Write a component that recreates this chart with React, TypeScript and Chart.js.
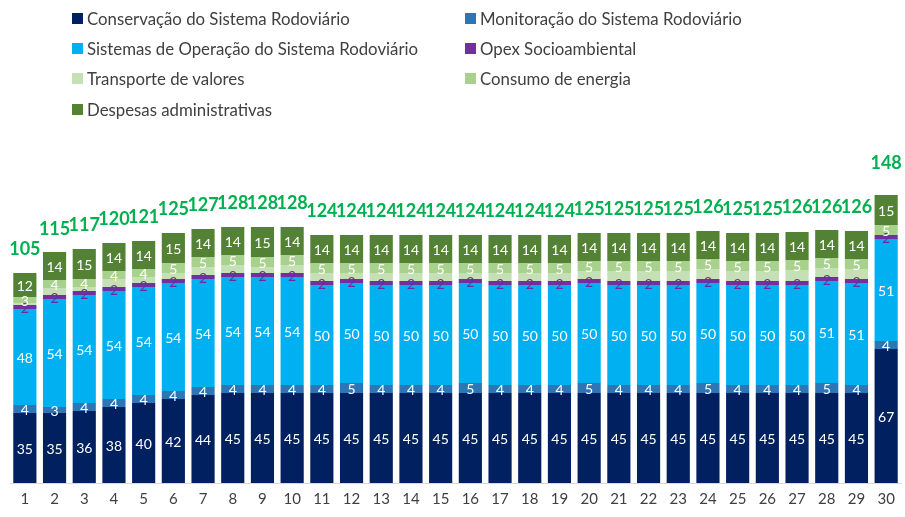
import React, { useEffect, useRef } from "react";
import { Chart, registerables } from "chart.js";

Chart.register(...registerables);

const categories = ["1","2","3","4","5","6","7","8","9","10","11","12","13","14","15","16","17","18","19","20","21","22","23","24","25","26","27","28","29","30"];

const conservacao = [35,35,36,38,40,42,44,45,45,45,45,45,45,45,45,45,45,45,45,45,45,45,45,45,45,45,45,45,45,67];
const monitoracao = [4,3,4,4,4,4,4,4,4,4,4,5,4,4,4,5,4,4,4,5,4,4,4,5,4,4,4,5,4,4];
const sistemasOperacao = [48,54,54,54,54,54,54,54,54,54,50,50,50,50,50,50,50,50,50,50,50,50,50,50,50,50,50,51,51,51];
const opexSocio = [2,2,2,2,2,2,2,2,2,2,2,2,2,2,2,2,2,2,2,2,2,2,2,2,2,2,2,2,2,2];
const transporteValores = [1,3.5,2,4,3,3,4,4,3,4,4,3,4,4,4,3,4,4,4,4,5,5,5,5,5,5,5.5,4.5,5,0];
const consumoEnergia = [3,4,4,4,4,5,5,5,5,5,5,5,5,5,5,5,5,5,5,5,5,5,5,5,5,5,5,5,5,5];
const despesasAdm = [12,14,15,14,14,15,14,14,15,14,14,14,14,14,14,14,14,14,14,14,14,14,14,14,14,14,14,14,14,15];
const totals = [105,115,117,120,121,125,127,128,128,128,124,124,124,124,124,124,124,124,124,125,125,125,125,126,125,125,126,126,126,148];

const seriesNames = [
  "Conservação do Sistema Rodoviário",
  "Monitoração do Sistema Rodoviário",
  "Sistemas de Operação do Sistema Rodoviário",
  "Opex Socioambiental",
  "Transporte de valores",
  "Consumo de energia",
  "Despesas administrativas",
];
const seriesColors = ["#002060", "#2e75b6", "#00b0f0", "#7030a0", "#c5e0b4", "#a9d18e", "#548235"];
const labelColors = ["#ffffff", "#ffffff", "#ffffff", "#6a2d9a", null, "#ffffff", "#ffffff"];
const seriesData = [conservacao, monitoracao, sistemasOperacao, opexSocio, transporteValores, consumoEnergia, despesasAdm];

const FONT = "Lato, 'Open Sans', sans-serif";

const labelPlugin = {
  id: "segLabels",
  afterDatasetsDraw(chart: any) {
    const ctx = chart.ctx;
    ctx.save();
    ctx.textAlign = "center";
    ctx.textBaseline = "middle";
    chart.data.datasets.forEach((ds: any, di: number) => {
      const color = labelColors[di];
      if (!color) return;
      const meta = chart.getDatasetMeta(di);
      ctx.font = `14px ${FONT}`;
      ctx.fillStyle = color;
      meta.data.forEach((bar: any, i: number) => {
        const p = bar.getProps(["x", "y", "base"], true);
        const v = ds.data[i];
        ctx.fillText(String(v), p.x, (p.y + p.base) / 2 + 1);
      });
    });
    const xs = chart.scales.x;
    const ys = chart.scales.y;
    ctx.font = `bold 18px ${FONT}`;
    ctx.fillStyle = "#00b050";
    totals.forEach((t, i) => {
      ctx.fillText(String(t), xs.getPixelForValue(i), ys.getPixelForValue(t) - 24);
    });
    ctx.restore();
  },
};

export default function App() {
  const ref = useRef<HTMLCanvasElement>(null);
  useEffect(() => {
    if (!ref.current) return;
    const chart = new Chart(ref.current, {
      type: "bar",
      data: {
        labels: categories,
        datasets: seriesData.map((d, i) => ({
          label: seriesNames[i],
          data: d,
          backgroundColor: seriesColors[i],
          borderWidth: 0,
          barPercentage: 0.78,
          categoryPercentage: 1,
        })),
      },
      options: {
        animation: false,
        responsive: false,
        maintainAspectRatio: false,
        layout: { padding: { left: 10, right: 4, top: 133, bottom: 0 } },
        plugins: { legend: { display: false }, tooltip: { enabled: false } },
        scales: {
          x: {
            stacked: true,
            grid: { display: false, drawTicks: false },
            border: { display: true, color: "#d9d9d9", width: 1 },
            ticks: { color: "#404040", font: { family: FONT, size: 15 }, padding: 7, maxRotation: 0, autoSkip: false },
            afterFit: (s: any) => { s.height = 34; },
          },
          y: {
            stacked: true,
            display: false,
            min: 0,
            max: 175,
          },
        },
      },
      plugins: [labelPlugin],
    });
    return () => chart.destroy();
  }, []);

  const legendPos = [
    { x: 72, y: 18 },
    { x: 465, y: 18 },
    { x: 72, y: 48 },
    { x: 465, y: 48 },
    { x: 72, y: 78 },
    { x: 465, y: 78 },
    { x: 72, y: 109 },
  ];

  return (
    <div style={{ position: "fixed", left: 0, top: 0, width: 905, height: 517, background: "#fff" }}>
      <canvas ref={ref} width={905} height={517} style={{ position: "absolute", left: 0, top: 0 }} />
      {seriesNames.map((n, i) => (
        <div
          key={n}
          style={{
            position: "absolute",
            left: legendPos[i].x,
            top: legendPos[i].y - 10,
            height: 20,
            display: "flex",
            alignItems: "center",
            fontFamily: FONT,
            fontSize: 16.8,
            color: "#404040",
            whiteSpace: "nowrap",
          }}
        >
          <span style={{ display: "inline-block", width: 11, height: 11, background: seriesColors[i], marginRight: 4 }} />
          {n}
        </div>
      ))}
    </div>
  );
}
